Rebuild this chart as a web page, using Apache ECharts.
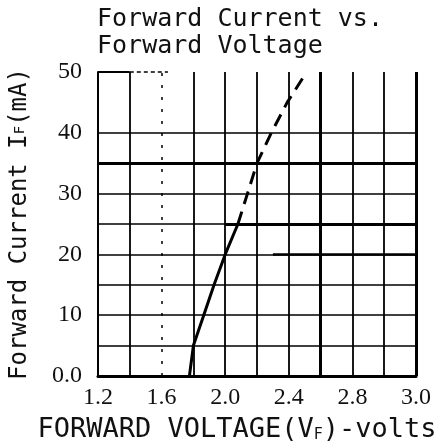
<!DOCTYPE html>
<html>
<head>
<meta charset="utf-8">
<script src="https://cdn.jsdelivr.net/npm/echarts@6/dist/echarts.min.js"></script>
<style>
  html, body { margin: 0; padding: 0; background: #fff; }
  #chart { width: 441px; height: 448px; }
</style>
</head>
<body>
<div id="chart"></div>
<script>
// 曲线数据 (V, mA)
const voltage = [1.775, 1.80, 1.865, 1.93, 2.0, 2.08, 2.14, 2.2, 2.29, 2.39, 2.5];
const current = [0, 5, 10, 15, 20, 25, 30, 35, 40, 45, 49.5];
const solidUntil = 5; // index where dashed part starts

// axis ticks
const xTickLabels = ['1.2', '1.6', '2.0', '2.4', '2.8', '3.0'];
const yTickLabels = ['0.0', '10', '20', '30', '40', '50'];

// grid lines
const vGridLines = [1.4, 1.6, 1.8, 2.0, 2.2, 2.4, 2.6, 2.8, 3.0, 3.2];
const hGridLines = [5, 10, 15, 20, 25, 30, 35, 40];

const mono = '"DejaVu Sans Mono", monospace';
const serif = '"Liberation Serif", "DejaVu Serif", serif';

const pts = voltage.map((v, i) => [v, current[i]]);
const solidPts = pts.slice(0, solidUntil + 1);
const dashPts = pts.slice(solidUntil);

const vStyle = (v) => {
    if (Math.abs(v - 1.6) < 1e-6) return { color: '#000', width: 1.5, type: [3, 9] };
    if (Math.abs(v - 2.6) < 1e-6 || Math.abs(v - 3.2) < 1e-6) return { color: '#000', width: 3, type: 'solid' };
    return { color: '#000', width: 1.8, type: 'solid' };
};
const hStyle = (h) => {
    if (h === 35) return { color: '#000', width: 3, type: 'solid' };
    return { color: '#000', width: 1.6, type: 'solid' };
};

const gridLines = [];
vGridLines.forEach(v => gridLines.push({ xAxis: v, lineStyle: vStyle(v) }));
hGridLines.forEach(h => gridLines.push({ yAxis: h, lineStyle: hStyle(h) }));
// partial top border
gridLines.push([{ coord: [1.2, 50], lineStyle: { color: '#000', width: 2, type: 'solid' } }, { coord: [1.4, 50] }]);
gridLines.push([{ coord: [1.4, 50], lineStyle: { color: '#000', width: 1.5, type: [4, 3] } }, { coord: [1.64, 50] }]);
// heavier segments from the scan
gridLines.push([{ coord: [2.0, 25], lineStyle: { color: '#000', width: 3, type: 'solid' } }, { coord: [3.2, 25] }]);
gridLines.push([{ coord: [2.3, 20], lineStyle: { color: '#000', width: 2.6, type: 'solid' } }, { coord: [3.2, 20] }]);

const chart = echarts.init(document.getElementById('chart'));
chart.setOption({
    animation: false,
    backgroundColor: '#fff',
    title: {
        text: 'Forward Current vs.\nForward Voltage',
        left: 92,
        top: 1,
        textStyle: { fontFamily: mono, fontSize: 25, fontWeight: 'normal', color: '#111', lineHeight: 27 }
    },
    grid: { left: 96, right: 25, top: 72, bottom: 71 },
    xAxis: {
        type: 'value',
        min: 1.2,
        max: 3.2,
        interval: 0.4,
        name: 'FORWARD VOLTAGE(V{sub|F})-volts',
        nameLocation: 'middle',
        nameGap: 40,
        nameTextStyle: {
            fontFamily: mono, fontSize: 27, color: '#111', padding: [0, 40, 0, 0],
            rich: { sub: { fontFamily: mono, fontSize: 15, color: '#111', verticalAlign: 'bottom', padding: [10, 0, 0, 0] } }
        },
        axisLine: { show: true, onZero: false, lineStyle: { color: '#000', width: 3 } },
        axisTick: { show: false },
        splitLine: { show: false },
        axisLabel: {
            margin: 10,
            fontFamily: serif, fontSize: 24, color: '#111',
            formatter: (v) => xTickLabels[Math.round((v - 1.2) / 0.4)] || ''
        }
    },
    yAxis: {
        type: 'value',
        min: 0,
        max: 50,
        interval: 10,
        name: 'Forward Current I{sub|F}(mA)',
        nameLocation: 'middle',
        nameRotate: 90,
        nameGap: 66,
        nameTextStyle: {
            fontFamily: mono, fontSize: 24, color: '#111',
            rich: { sub: { fontFamily: mono, fontSize: 14, color: '#111' } }
        },
        axisLine: { show: true, lineStyle: { color: '#000', width: 2 } },
        axisTick: { show: false },
        splitLine: { show: false },
        axisLabel: {
            margin: 16,
            fontFamily: serif, fontSize: 24, color: '#111',
            formatter: (v) => yTickLabels[Math.round(v / 10)] || ''
        }
    },
    series: [
        {
            type: 'line',
            data: [],
            silent: true,
            markLine: { silent: true, symbol: 'none', label: { show: false }, data: gridLines }
        },
        {
            type: 'line',
            data: solidPts,
            showSymbol: false,
            lineStyle: { color: '#000', width: 3 }
        },
        {
            type: 'line',
            data: dashPts,
            showSymbol: false,
            lineStyle: { color: '#000', width: 3, type: [13, 8] }
        }
    ]
});
</script>
</body>
</html>
